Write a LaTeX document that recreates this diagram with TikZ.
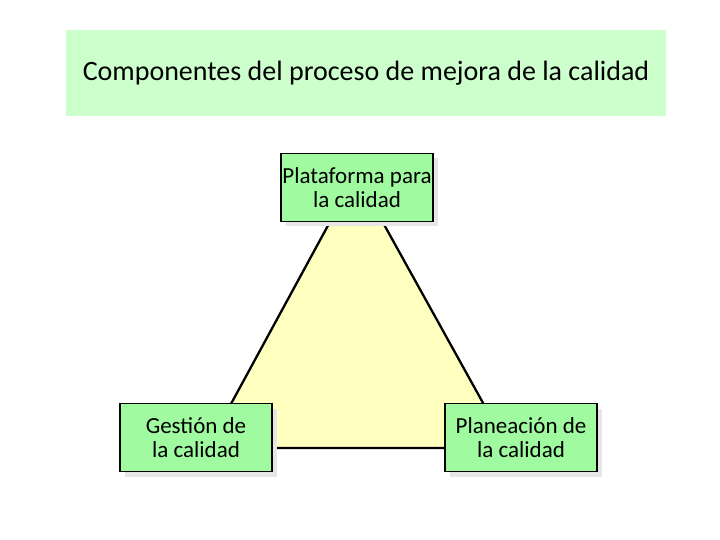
\documentclass[tikz,border=0pt]{standalone}
\usepackage{fontspec}
\setmainfont{Carlito}
\usetikzlibrary{shadows}
\definecolor{titlegreen}{RGB}{204,255,204}
\definecolor{boxgreen}{RGB}{160,250,160}
\definecolor{triyellow}{RGB}{255,255,192}
\definecolor{shadowgray}{RGB}{230,230,230}
\tikzset{
  compbox/.style={draw=black, line width=1.5pt, fill=boxgreen, minimum width=152pt, minimum height=68pt,
    align=center, font=\fontsize{23}{24}\selectfont, inner sep=1pt,
    drop shadow={shadow xshift=5pt, shadow yshift=-5pt, fill=shadowgray, opacity=1}},
  titlebox/.style={fill=titlegreen, minimum width=600pt, minimum height=86pt, font=\fontsize{28}{32}\selectfont},
  triline/.style={line width=2.3pt, draw=black}
}
\begin{document}
\begin{tikzpicture}[x=1pt,y=-1pt]
\useasboundingbox (0,0) rectangle (720,540);
\node[titlebox] (title) at (366,73) {Componentes del proceso de mejora de la calidad};
\coordinate (apex) at (356,174);
\coordinate (bl) at (207,448);
\coordinate (br) at (508,448);
\filldraw[triline, fill=triyellow] (apex) -- (bl) -- (br) -- cycle;
\node[compbox] (top) at (357,187.5) {Plataforma para\\la calidad};
\node[compbox] (left) at (196,437.5) {Gestión de\\la calidad};
\node[compbox] (right) at (521,437.5) {Planeación de\\la calidad};
\end{tikzpicture}
\end{document}
